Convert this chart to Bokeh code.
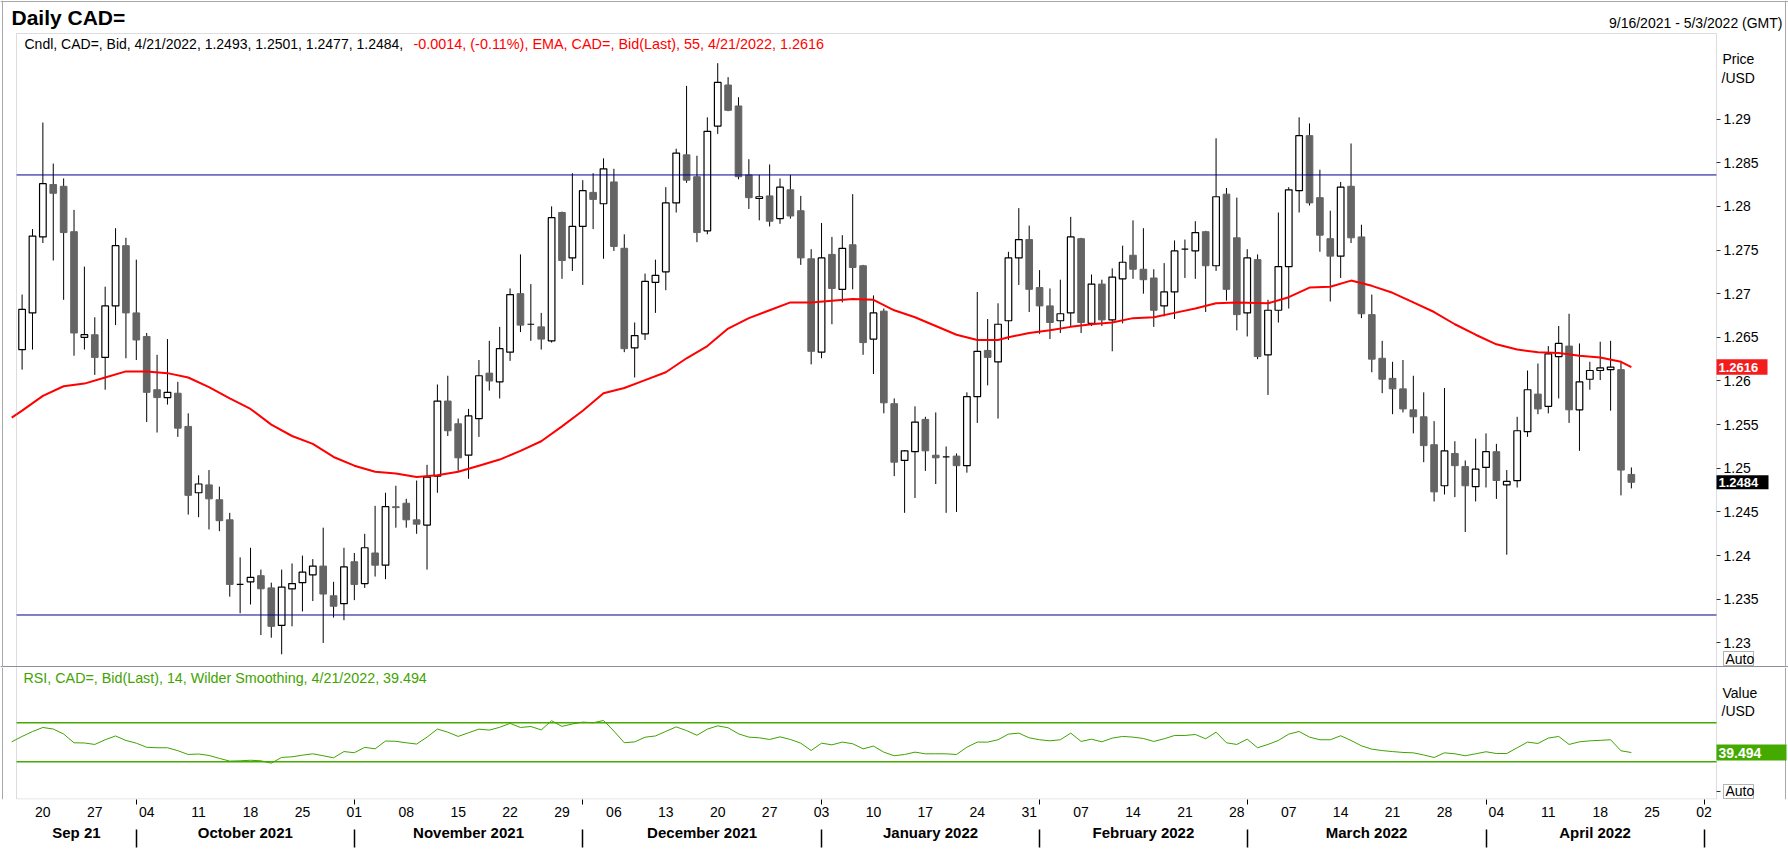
import numpy as np
import pandas as pd
from bokeh.plotting import figure
from bokeh.models import (Range1d, LinearAxis, FixedTicker, Span, Label, BoxAnnotation,
                          ColumnDataSource, Column)
from bokeh.embed import file_html
from bokeh.resources import INLINE

FONT = "Liberation Sans"
FRAME = "#8e8e9c"
BORDER = "#a8a8a8"

# ---------------- data ----------------
# trading-day calendar (Mon-Fri), index 0 = 2021-09-16
day_dates = pd.bdate_range("2021-09-16", "2022-05-03")

open_ = [1.2636, 1.2678, 1.2765, 1.2825, 1.2823, 1.2771, 1.2650, 1.2653, 1.2627, 1.2686,
         1.2755, 1.2678, 1.2651, 1.2590, 1.2581, 1.2586, 1.2548, 1.2472, 1.2481, 1.2464,
         1.2441, 1.2367, 1.2370, 1.2377, 1.2363, 1.2320, 1.2362, 1.2369, 1.2378, 1.2388,
         1.2354, 1.2345, 1.2393, 1.2368, 1.2403, 1.2389, 1.2456, 1.2460, 1.2441, 1.2435,
         1.2491, 1.2577, 1.2551, 1.2515, 1.2557, 1.2609, 1.2599, 1.2633, 1.2700, 1.2665,
         1.2662, 1.2646, 1.2793, 1.2741, 1.2777, 1.2816, 1.2803, 1.2828, 1.2752, 1.2638,
         1.2654, 1.2713, 1.2725, 1.2804, 1.2859, 1.2834, 1.2772, 1.2892, 1.2939, 1.2915,
         1.2836, 1.2809, 1.2812, 1.2786, 1.2819, 1.2795, 1.2740, 1.2633, 1.2745, 1.2705,
         1.2756, 1.2732, 1.2648, 1.2680, 1.2574, 1.2509, 1.2519, 1.2556, 1.2515, 1.2513,
         1.2514, 1.2503, 1.2582, 1.2635, 1.2622, 1.2669, 1.2741, 1.2762, 1.2707, 1.2686,
         1.2669, 1.2678, 1.2763, 1.2666, 1.2711, 1.2670, 1.2717, 1.2744, 1.2728, 1.2718,
         1.2686, 1.2702, 1.2751, 1.2749, 1.2771, 1.2732, 1.2814, 1.2764, 1.2678, 1.2739,
         1.2630, 1.2681, 1.2731, 1.2818, 1.2881, 1.2810, 1.2763, 1.2743, 1.2823, 1.2765,
         1.2676, 1.2626, 1.2603, 1.2591, 1.2567, 1.2559, 1.2527, 1.2480, 1.2517, 1.2502,
         1.2479, 1.2501, 1.2519, 1.2481, 1.2486, 1.2542, 1.2585, 1.2571, 1.2628, 1.2640,
         1.2567, 1.2602, 1.2612, 1.2613, 1.2613, 1.2493]
high = [1.2699, 1.2774, 1.2896, 1.2849, 1.2832, 1.2796, 1.2731, 1.2673, 1.2708, 1.2775,
        1.2764, 1.2739, 1.2655, 1.2630, 1.2648, 1.2599, 1.2563, 1.2492, 1.2498, 1.2479,
        1.2449, 1.2398, 1.2409, 1.2384, 1.2369, 1.2384, 1.2391, 1.2400, 1.2396, 1.2432,
        1.2370, 1.2409, 1.2403, 1.2425, 1.2457, 1.2472, 1.2480, 1.2465, 1.2486, 1.2504,
        1.2596, 1.2606, 1.2557, 1.2568, 1.2624, 1.2646, 1.2662, 1.2706, 1.2745, 1.2711,
        1.2678, 1.2800, 1.2794, 1.2838, 1.2830, 1.2838, 1.2855, 1.2843, 1.2768, 1.2667,
        1.2723, 1.2739, 1.2822, 1.2866, 1.2938, 1.2858, 1.2902, 1.2964, 1.2948, 1.2925,
        1.2854, 1.2836, 1.2848, 1.2832, 1.2836, 1.2812, 1.2751, 1.2781, 1.2765, 1.2767,
        1.2814, 1.2733, 1.2698, 1.2683, 1.2580, 1.2521, 1.2571, 1.2559, 1.2564, 1.2525,
        1.2517, 1.2587, 1.2702, 1.2671, 1.2689, 1.2748, 1.2798, 1.2778, 1.2727, 1.2706,
        1.2716, 1.2788, 1.2764, 1.2722, 1.2716, 1.2729, 1.2755, 1.2784, 1.2775, 1.2728,
        1.2735, 1.2761, 1.2762, 1.2783, 1.2772, 1.2878, 1.2821, 1.2810, 1.2751, 1.2745,
        1.2693, 1.2793, 1.2822, 1.2902, 1.2895, 1.2842, 1.2795, 1.2828, 1.2872, 1.2779,
        1.2699, 1.2646, 1.2622, 1.2624, 1.2606, 1.2587, 1.2554, 1.2592, 1.2531, 1.2509,
        1.2534, 1.2540, 1.2528, 1.2498, 1.2559, 1.2612, 1.2620, 1.2640, 1.2663, 1.2677,
        1.2643, 1.2622, 1.2645, 1.2646, 1.2623, 1.2501]
low = [1.2613, 1.2636, 1.2758, 1.2738, 1.2693, 1.2629, 1.2636, 1.2607, 1.2590, 1.2664,
       1.2626, 1.2624, 1.2553, 1.2541, 1.2573, 1.2536, 1.2447, 1.2444, 1.2430, 1.2428,
       1.2353, 1.2334, 1.2344, 1.2309, 1.2306, 1.2287, 1.2319, 1.2336, 1.2348, 1.2300,
       1.2329, 1.2326, 1.2349, 1.2363, 1.2376, 1.2373, 1.2432, 1.2432, 1.2425, 1.2384,
       1.2472, 1.2537, 1.2497, 1.2488, 1.2536, 1.2589, 1.2580, 1.2623, 1.2656, 1.2646,
       1.2636, 1.2644, 1.2717, 1.2726, 1.2710, 1.2774, 1.2740, 1.2749, 1.2633, 1.2604,
       1.2647, 1.2678, 1.2704, 1.2793, 1.2827, 1.2759, 1.2768, 1.2883, 1.2909, 1.2831,
       1.2797, 1.2784, 1.2777, 1.2780, 1.2786, 1.2733, 1.2619, 1.2626, 1.2665, 1.2690,
       1.2705, 1.2630, 1.2608, 1.2563, 1.2491, 1.2449, 1.2466, 1.2497, 1.2482, 1.2449,
       1.2450, 1.2495, 1.2552, 1.2595, 1.2557, 1.2647, 1.2710, 1.2679, 1.2654, 1.2648,
       1.2655, 1.2663, 1.2655, 1.2663, 1.2663, 1.2634, 1.2666, 1.2717, 1.2700, 1.2662,
       1.2674, 1.2671, 1.2718, 1.2717, 1.2679, 1.2726, 1.2692, 1.2658, 1.2651, 1.2625,
       1.2584, 1.2667, 1.2683, 1.2793, 1.2801, 1.2748, 1.2691, 1.2718, 1.2758, 1.2672,
       1.2610, 1.2586, 1.2562, 1.2564, 1.2540, 1.2507, 1.2462, 1.2470, 1.2467, 1.2427,
       1.2462, 1.2478, 1.2465, 1.2401, 1.2478, 1.2536, 1.2562, 1.2563, 1.2580, 1.2552,
       1.2520, 1.2590, 1.2601, 1.2566, 1.2469, 1.2477]
close = [1.2682, 1.2766, 1.2826, 1.2815, 1.2770, 1.2655, 1.2653, 1.2627, 1.2686, 1.2755,
         1.2678, 1.2647, 1.2587, 1.2581, 1.2587, 1.2546, 1.2469, 1.2482, 1.2465, 1.2440,
         1.2367, 1.2367, 1.2375, 1.2362, 1.2319, 1.2364, 1.2368, 1.2381, 1.2388, 1.2356,
         1.2342, 1.2387, 1.2367, 1.2409, 1.2389, 1.2456, 1.2455, 1.2441, 1.2436, 1.2490,
         1.2577, 1.2543, 1.2512, 1.2560, 1.2606, 1.2600, 1.2637, 1.2699, 1.2664, 1.2665,
         1.2648, 1.2787, 1.2738, 1.2777, 1.2818, 1.2808, 1.2843, 1.2754, 1.2637, 1.2652,
         1.2714, 1.2721, 1.2804, 1.2861, 1.2830, 1.2770, 1.2886, 1.2942, 1.2910, 1.2834,
         1.2810, 1.2811, 1.2783, 1.2822, 1.2789, 1.2741, 1.2634, 1.2741, 1.2706, 1.2752,
         1.2730, 1.2644, 1.2678, 1.2575, 1.2507, 1.2520, 1.2553, 1.2520, 1.2512, 1.2513,
         1.2503, 1.2582, 1.2634, 1.2627, 1.2665, 1.2741, 1.2762, 1.2705, 1.2686, 1.2667,
         1.2677, 1.2765, 1.2667, 1.2711, 1.2670, 1.2719, 1.2736, 1.2728, 1.2716, 1.2681,
         1.2702, 1.2749, 1.2751, 1.2770, 1.2732, 1.2811, 1.2705, 1.2676, 1.2741, 1.2628,
         1.2681, 1.2731, 1.2819, 1.2881, 1.2804, 1.2767, 1.2743, 1.2822, 1.2764, 1.2677,
         1.2625, 1.2602, 1.2591, 1.2568, 1.2559, 1.2526, 1.2473, 1.2520, 1.2503, 1.2480,
         1.2499, 1.2519, 1.2486, 1.2485, 1.2543, 1.2590, 1.2568, 1.2631, 1.2643, 1.2567,
         1.2599, 1.2612, 1.2615, 1.2616, 1.2498, 1.2484]

# EMA(55) read at trading-day indices
ema_day = [-1, 0, 2, 4, 6, 8, 10, 12, 14, 16, 18, 20, 22, 24, 26, 28, 30, 32, 34, 36,
           38, 40, 42, 44, 46, 48, 50, 52, 54, 56, 58, 60, 62, 64, 66, 68, 70, 72, 74, 76,
           78, 80, 82, 84, 86, 88, 90, 92, 94, 95, 97, 99, 101, 103, 105, 107, 109, 111, 113, 115,
           117, 120, 122, 124, 126, 128, 130, 132, 134, 136, 138, 140, 142, 144, 146, 148, 150, 152, 154, 155]
ema_val = [1.2558, 1.2566, 1.2583, 1.2594, 1.2597, 1.2604, 1.2611, 1.2611, 1.2609, 1.2604,
           1.2593, 1.2580, 1.2568, 1.2550, 1.2537, 1.2528, 1.2513, 1.2503, 1.2496, 1.2494,
           1.2490, 1.2492, 1.2496, 1.2503, 1.2510, 1.2520, 1.2531, 1.2548, 1.2566, 1.2586,
           1.2592, 1.2601, 1.2610, 1.2626, 1.2640, 1.2660, 1.2672, 1.2681, 1.2690, 1.2690,
           1.2692, 1.2694, 1.2693, 1.2681, 1.2673, 1.2663, 1.2653, 1.2647, 1.2647, 1.2650,
           1.2655, 1.2658, 1.2662, 1.2665, 1.2667, 1.2672, 1.2673, 1.2678, 1.2683, 1.2689,
           1.2690, 1.2689, 1.2696, 1.2707, 1.2708, 1.2715, 1.2709, 1.2701, 1.2690, 1.2679,
           1.2665, 1.2653, 1.2642, 1.2636, 1.2633, 1.2632, 1.2629, 1.2627, 1.2622, 1.2616]

# RSI(14), trading-day index -1 .. 155
rsi_day = list(range(-1, 156))
rsi_val = [50.5, 56.0, 61.0, 65.2, 63.6, 58.5, 49.5, 49.3, 47.8, 52.6,
           56.5, 51.9, 49.1, 44.9, 44.4, 44.4, 41.4, 37.5, 38.0, 36.5,
           33.5, 30.7, 31.0, 31.6, 31.0, 28.6, 34.5, 35.1, 36.8, 38.2,
           36.2, 34.1, 40.5, 39.3, 44.8, 43.3, 51.3, 51.0, 49.5, 48.2,
           55.3, 63.6, 60.4, 56.0, 59.8, 63.5, 62.5, 65.4, 69.4, 65.2,
           66.2, 62.7, 72.1, 66.3, 68.8, 70.7, 70.0, 72.4, 61.5, 49.6,
           50.4, 55.2, 56.5, 61.2, 65.8, 62.0, 57.2, 63.5, 66.9, 64.9,
           58.7, 55.3, 54.6, 52.9, 55.6, 52.9, 49.1, 41.6, 49.1, 47.4,
           50.2, 48.5, 43.3, 46.1, 39.9, 36.2, 37.5, 39.9, 38.2, 38.2,
           38.2, 37.5, 45.0, 50.2, 50.2, 52.6, 58.4, 59.4, 54.6, 52.6,
           51.5, 52.6, 59.4, 50.9, 53.2, 50.5, 54.3, 56.0, 55.3, 53.9,
           50.9, 53.6, 57.0, 57.0, 58.0, 53.6, 60.4, 49.5, 47.8, 53.2,
           44.4, 47.8, 51.9, 58.4, 61.1, 55.3, 52.6, 52.6, 56.7, 51.9,
           46.4, 43.0, 41.5, 40.5, 39.6, 39.2, 37.0, 34.4, 39.2, 38.2,
           36.2, 38.2, 40.3, 38.5, 38.5, 44.4, 50.2, 48.8, 54.3, 56.0,
           47.8, 50.5, 51.5, 52.0, 52.6, 41.3, 39.494]

resistance = 1.2836
support = 1.2332
rsi_upper = 70
rsi_lower = 30

price_ticks = [1.23, 1.235, 1.24, 1.245, 1.25, 1.255, 1.26, 1.265, 1.27, 1.275, 1.28, 1.285, 1.29]
price_tick_labels = ["1.23", "1.235", "1.24", "1.245", "1.25", "1.255", "1.26", "1.265",
                     "1.27", "1.275", "1.28", "1.285", "1.29"]
month_names = ["Sep 21", "October 2021", "November 2021", "December 2021",
               "January 2022", "February 2022", "March 2022", "April 2022"]

# ---------------- layout geometry (page pixels) ----------------
W = 1788
X0, X1 = -0.54, 163.2            # visible trading-day window
FL, FR = 16, 1716                 # drawn frame left / right
PXU = (FR - FL) / (X1 - X0)       # pixels per trading day
P_TOP, P_BOT = 1.2998, 1.2273     # price window
P_TOP_PX, P_BOT_PX = 33, 666
H1 = 667                          # price canvas height
RB = 799                          # RSI frame bottom (page)
H2 = 860 - H1
DP = (P_TOP - P_BOT) / (P_BOT_PX - P_TOP_PX)   # price per pixel
DR = (rsi_upper - rsi_lower) / 39.0            # RSI per pixel


def xd(px):      # page x -> trading-day coordinate
    return X0 + (px - FL) / PXU


def yp(py):      # page y -> price coordinate
    return P_TOP - (py - P_TOP_PX) * DP


def yr(py):      # page y -> RSI coordinate (70 at 722.3 px, 30 at 761.3 px)
    return rsi_lower + (761.3 - py) * DR


mondays = [i for i, d in enumerate(day_dates) if d.weekday() == 0]
day_labels = [day_dates[i].strftime("%d") for i in mondays]
month_starts = [i for i in range(1, len(day_dates)) if day_dates[i].month != day_dates[i - 1].month]
bounds = [X0] + month_starts
month_centers = [(a + b) / 2 for a, b in zip(bounds[:-1], bounds[1:])][:len(month_names)]

xr = Range1d(xd(0), xd(W))


def txt(fig, frame_bottom, px, py, text, y_data=None, **kw):
    opts = dict(text_font=FONT, text_font_size="14px", text_color="black",
                text_baseline="middle", text_align="left")
    opts.update(kw)
    if y_data is None:
        pos = dict(x=px, y=frame_bottom - py, x_units="screen", y_units="screen")
    else:
        pos = dict(x=px, y=y_data, x_units="screen", y_units="data")
    fig.add_layout(Label(text=text, **pos, **opts))


def box(fig, px0, px1, ytop, ybot, fill, line=None):
    fig.add_layout(BoxAnnotation(left=xd(px0), right=xd(px1), top=ytop, bottom=ybot,
                                 fill_color=fill, fill_alpha=1.0,
                                 line_color=line, line_width=1))


def style_yaxis(ax):
    ax.major_tick_out = 4
    ax.major_tick_in = 0
    ax.minor_tick_line_color = None
    ax.major_tick_line_color = "#333333"
    ax.axis_line_color = None
    ax.major_label_standoff = 3
    ax.major_label_text_font = FONT
    ax.major_label_text_font_size = "14px"
    ax.major_label_text_color = "black"


# ---------------- price panel ----------------
p1 = figure(width=W, height=H1, x_range=xr, y_range=Range1d(yp(H1), yp(0)),
            output_backend="svg", toolbar_location=None,
            x_axis_location=None, y_axis_location=None, min_border=0,
            background_fill_color="white", border_fill_color="white",
            outline_line_color=None)
p1.grid.visible = False

ya = LinearAxis(fixed_location=X1, ticker=FixedTicker(ticks=price_ticks),
                major_label_overrides=dict(zip(price_ticks, price_tick_labels)))
style_yaxis(ya)
p1.add_layout(ya, "right")

# frame + outer border
p1.add_layout(BoxAnnotation(left=X0, right=X1, top=yp(P_TOP_PX), bottom=yp(H1 + 5),
                            fill_color=None, line_color=FRAME, line_width=1))
p1.add_layout(Span(location=yp(P_BOT_PX), dimension="width", line_color=FRAME, line_width=1))
p1.add_layout(Span(location=yp(1), dimension="width", line_color=BORDER, line_width=1))
p1.add_layout(Span(location=xd(2), dimension="height", line_color=BORDER, line_width=1))
p1.add_layout(Span(location=xd(1785), dimension="height", line_color=BORDER, line_width=1))

o = np.array(open_)
c = np.array(close)
xs = np.arange(len(c))
up = c >= o
dn = ~up

p1.segment(x0=xs, y0=low, x1=xs, y1=high, line_color="black", line_width=1)
src_up = ColumnDataSource(dict(x=xs[up], top=c[up], bottom=o[up]))
src_dn = ColumnDataSource(dict(x=xs[dn], top=o[dn], bottom=c[dn]))
p1.vbar(x="x", top="top", bottom="bottom", width=0.64, source=src_up,
        fill_color="white", line_color="black", line_width=1.2)
p1.vbar(x="x", top="top", bottom="bottom", width=0.64, source=src_dn,
        fill_color="#646464", line_color="#646464", line_width=1)

p1.segment(x0=[X0, X0], x1=[X1, X1], y0=[resistance, support], y1=[resistance, support],
           line_color="#000088", line_width=1)
p1.line(ema_day, ema_val, line_color="#ff0000", line_width=2)

txt(p1, H1, 11, 17, "Daily CAD=", text_font_size="21px", text_font_style="bold")
txt(p1, H1, 1782, 22, "9/16/2021 - 5/3/2022 (GMT)", text_align="right")
txt(p1, H1, 24, 43, "Cndl, CAD=, Bid, 4/21/2022, 1.2493, 1.2501, 1.2477, 1.2484,",
    text_font_size="14px")
txt(p1, H1, 413, 43, "-0.0014, (-0.11%), EMA, CAD=, Bid(Last),  55, 4/21/2022, 1.2616",
    text_color="#ff0000", text_font_size="14.4px")
txt(p1, H1, 1722, 58, "Price")
txt(p1, H1, 1721, 77, "/USD")
box(p1, 1723, 1753, yp(651), yp(665), "white", "black")
txt(p1, H1, 1725, 658, "Auto")
# last-value markers on the price scale
ema_last = ema_val[-1]
close_last = close[-1]
box(p1, FR, 1767, ema_last + 7.75 * DP, ema_last - 7.75 * DP, "#f41c1c")
txt(p1, H1, FR + 2, 0, f"{ema_last:.4f}", y_data=ema_last,
    text_font_size="13px", text_font_style="bold", text_color="white")
box(p1, FR, 1768, close_last + 7 * DP, close_last - 7 * DP, "black")
txt(p1, H1, FR + 2, 0, f"{close_last:.4f}", y_data=close_last,
    text_font_size="13px", text_font_style="bold", text_color="white")

# ---------------- RSI panel ----------------
p2 = figure(width=W, height=H2, x_range=xr, y_range=Range1d(yr(RB), yr(H1)),
            output_backend="svg", toolbar_location=None,
            x_axis_location=None, y_axis_location=None,
            min_border_left=0, min_border_right=0, min_border_top=0,
            min_border_bottom=H2 - (RB - H1),
            background_fill_color="white", border_fill_color="white",
            outline_line_color=None)
p2.grid.visible = False

ry = LinearAxis(fixed_location=X1, ticker=FixedTicker(ticks=[0]),
                major_label_overrides={0: " "})
style_yaxis(ry)
p2.add_layout(ry, "right")

p2.add_layout(BoxAnnotation(left=X0, right=X1, top=yr(H1 - 5), bottom=yr(RB - 0.5),
                            fill_color=None, line_color=FRAME, line_width=1))
p2.add_layout(Span(location=xd(2), dimension="height", line_color=BORDER, line_width=1))
p2.add_layout(Span(location=xd(1785), dimension="height", line_color=BORDER, line_width=1))

GREEN = "#3fa300"
p2.segment(x0=[X0, X0], x1=[X1, X1], y0=[rsi_upper, rsi_lower], y1=[rsi_upper, rsi_lower],
           line_color="#44aa00", line_width=1.4)
p2.line(rsi_day, rsi_val, line_color=GREEN, line_width=1)

txt(p2, RB, 23, 677, "RSI, CAD=, Bid(Last),  14, Wilder Smoothing, 4/21/2022, 39.494",
    text_color=GREEN, text_font_size="14.3px")
txt(p2, RB, 1722, 692, "Value")
txt(p2, RB, 1721, 710, "/USD")
box(p2, 1723, 1753, yr(784), yr(798), "white", "black")
txt(p2, RB, 1725, 0, "Auto", y_data=0)
rsi_last = rsi_val[-1]
box(p2, FR, 1786, rsi_last + 8 * DR, rsi_last - 8 * DR, "#44aa00")
txt(p2, RB, FR + 2, 0, f"{rsi_last:.3f}", y_data=rsi_last,
    text_font_size="14px", text_font_style="bold", text_color="white")

ax1 = LinearAxis(ticker=FixedTicker(ticks=mondays, minor_ticks=month_starts),
                 major_label_overrides=dict(zip(mondays, day_labels)),
                 major_tick_line_color=None, major_tick_out=0, major_tick_in=0,
                 minor_tick_out=5, minor_tick_in=0, minor_tick_line_color="black",
                 axis_line_color=None, major_label_standoff=2,
                 axis_label="\u00a0", axis_label_standoff=1,
                 axis_label_text_font_size="5px",
                 major_label_text_font=FONT, major_label_text_font_size="14px",
                 major_label_text_color="black")
ax2 = LinearAxis(ticker=FixedTicker(ticks=month_centers, minor_ticks=month_starts),
                 major_label_overrides=dict(zip(month_centers, month_names)),
                 major_tick_line_color=None, major_tick_out=0, major_tick_in=0,
                 minor_tick_out=18, minor_tick_in=0, minor_tick_line_color="black",
                 minor_tick_line_width=1.5,
                 axis_line_color=None, major_label_standoff=-24,
                 major_label_text_font=FONT, major_label_text_font_size="15px",
                 major_label_text_font_style="bold", major_label_text_color="black")
p2.add_layout(ax1, "below")
p2.add_layout(ax2, "below")

layout = Column(children=[p1, p2], spacing=0)
open("out.html", "w").write(file_html(layout, INLINE))
